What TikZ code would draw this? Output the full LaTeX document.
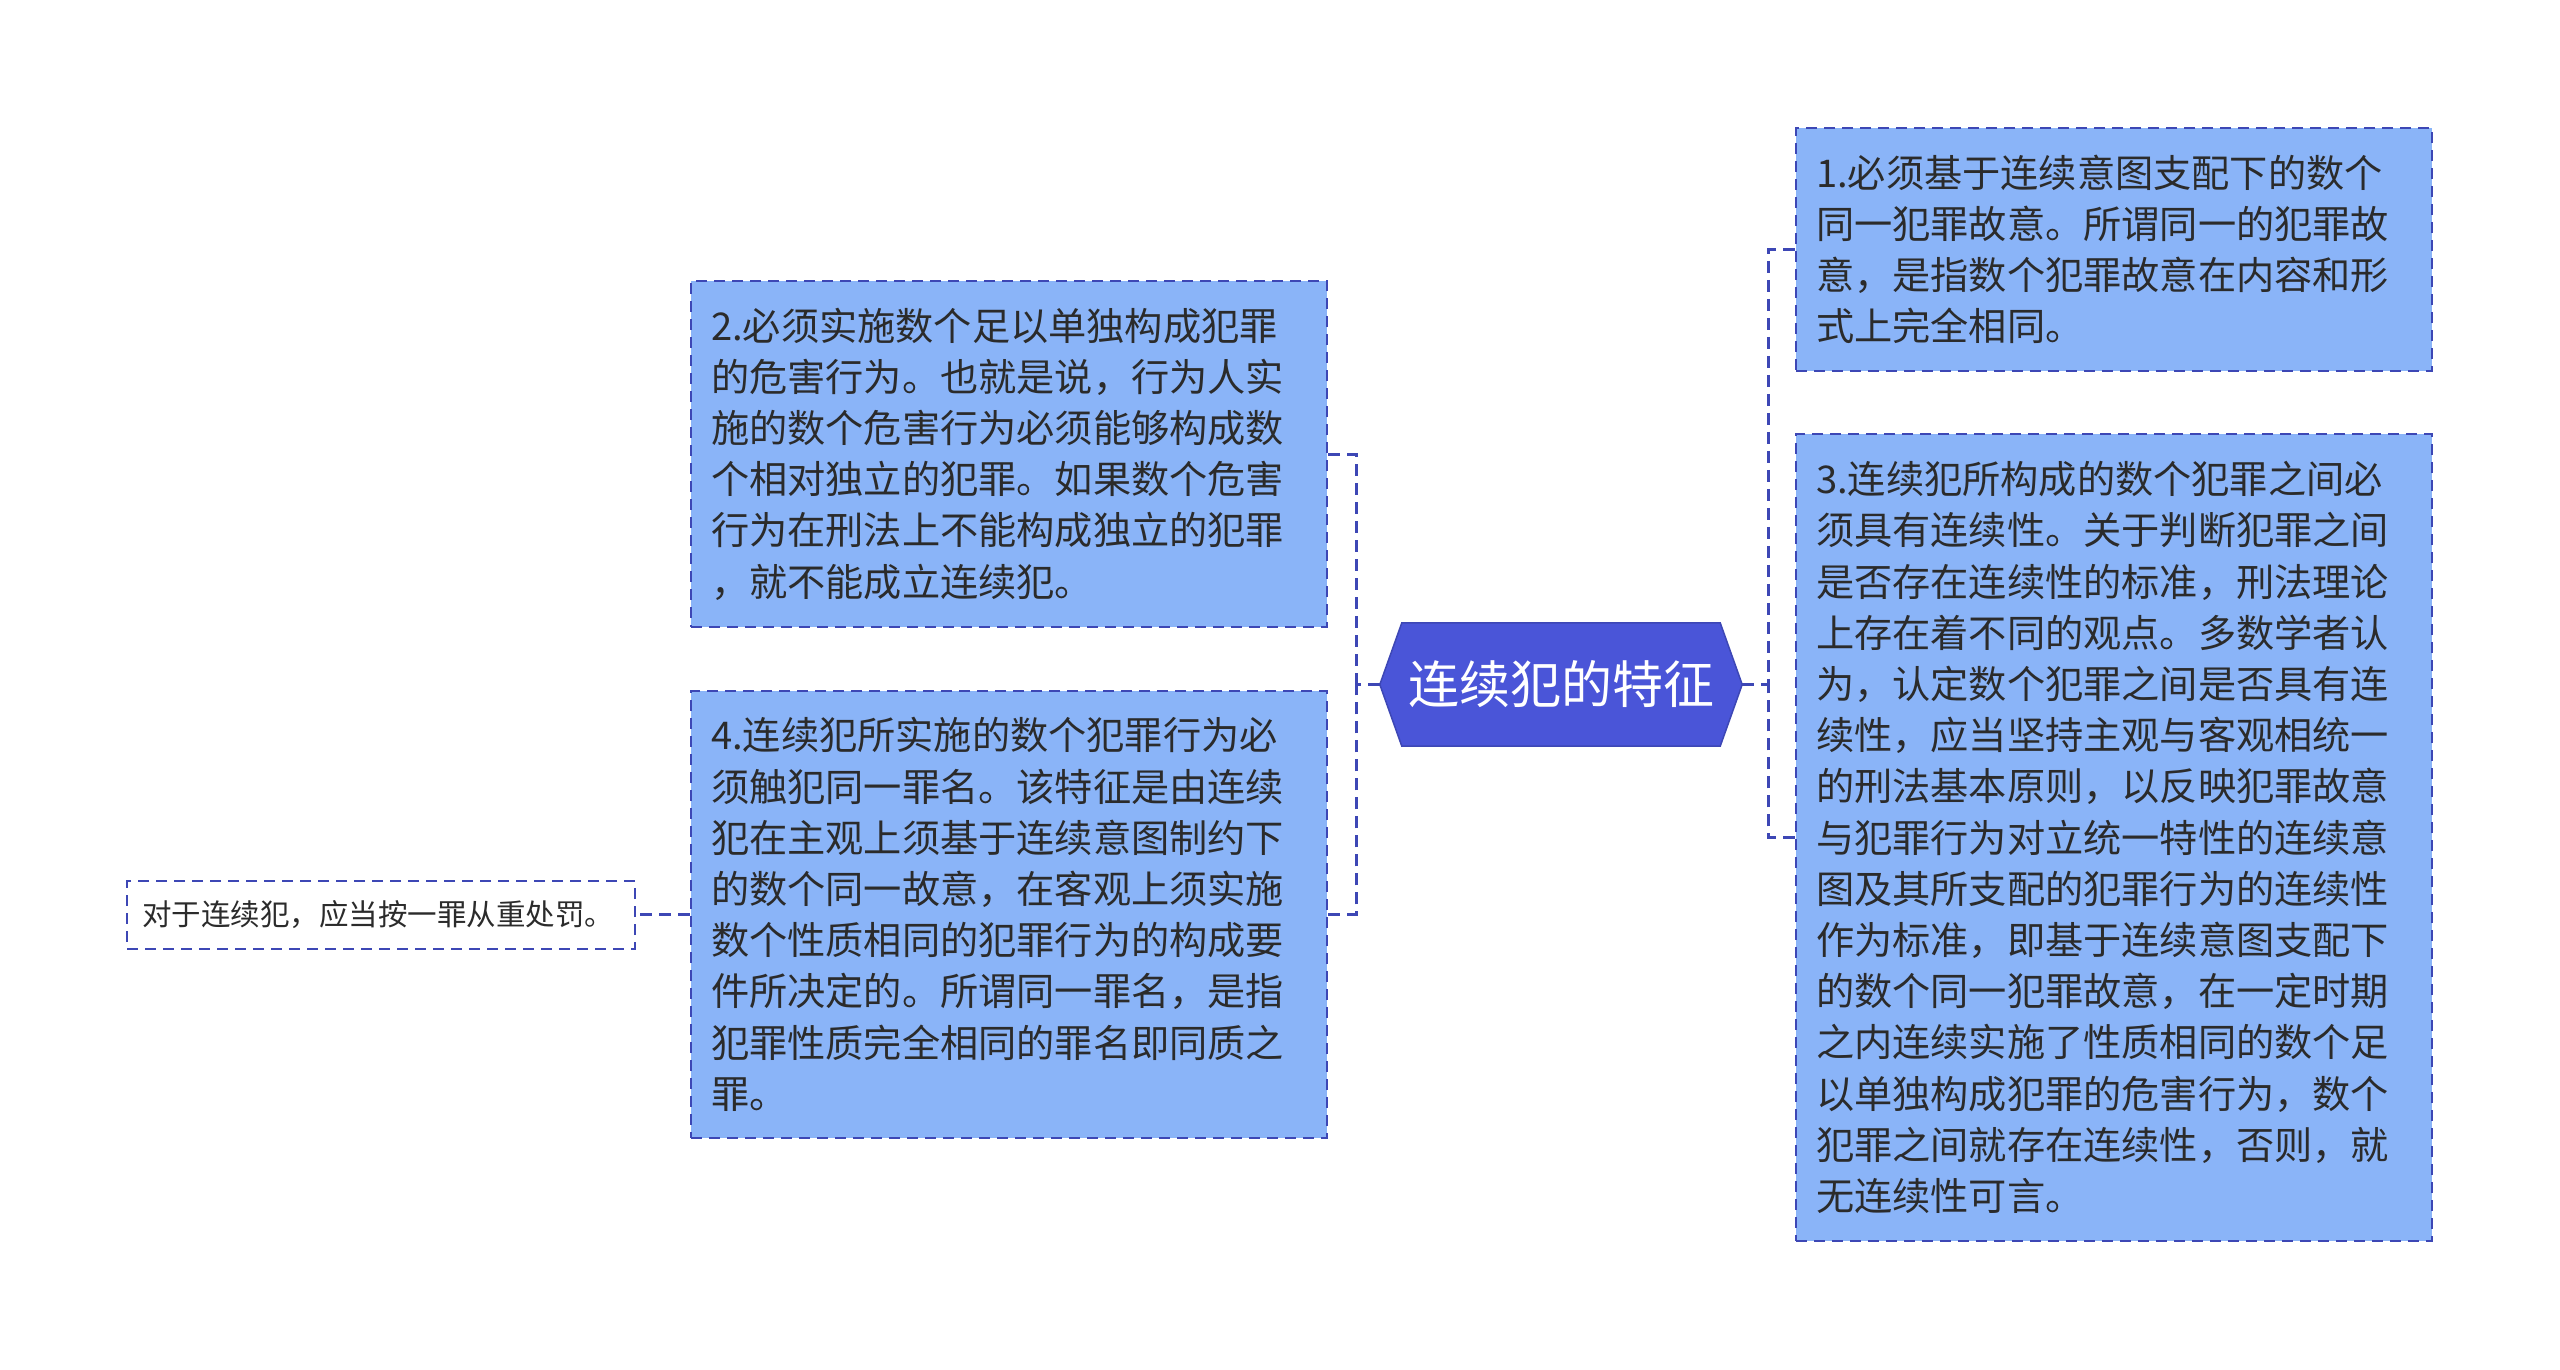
\documentclass[tikz,border=0pt]{standalone}
\usepackage{fontspec}
\setmainfont{Noto Sans CJK SC}
\usetikzlibrary{backgrounds}
\definecolor{boxfill}{HTML}{8AB4F8}
\definecolor{boxline}{HTML}{3D47B5}
\definecolor{rootfill}{HTML}{4A55D8}
\definecolor{txt}{HTML}{2B2B2B}
\begin{document}
\begin{tikzpicture}[x=1pt,y=-1pt,
  topic/.style={draw=boxline, fill=boxfill, line width=2.5pt, dash pattern=on 11pt off 7pt,
    text=txt, align=left, text width=596pt, inner xsep=20pt, inner ysep=0pt,
    minimum width=636pt, font=\fontsize{38.2}{51.2}\selectfont},
  leafbox/.style={draw=boxline, line width=2pt, dash pattern=on 11pt off 7pt,
    text=txt, align=left, text width=478pt, inner xsep=15pt, inner ysep=0pt,
    minimum width=508pt, minimum height=68pt, font=\fontsize{29.5}{34}\selectfont},
  conn/.style={draw=boxline, line width=3pt, dash pattern=on 12pt off 7pt}]
\useasboundingbox (0,0) rectangle (2560,1369);

\node[inner sep=0pt, minimum width=362pt, minimum height=123pt, text=white,
  font=\fontsize{51}{60}\selectfont] (root) at (1561,684.5) {连续犯的特征};
\begin{scope}[on background layer]
\path[fill=rootfill, draw=boxline, line width=1.5pt]
  (root.west) -- ([xshift=22pt]root.north west) -- ([xshift=-22pt]root.north east)
  -- (root.east) -- ([xshift=-22pt]root.south east) -- ([xshift=22pt]root.south west) -- cycle;
\end{scope}

\node[topic, minimum height=243pt] (b1) at (2114,249.5) {1.必须基于连续意图支配下的数个\\同一犯罪故意。所谓同一的犯罪故\\意，是指数个犯罪故意在内容和形\\式上完全相同。};
\node[topic, minimum height=807pt] (b3) at (2114,837.5) {3.连续犯所构成的数个犯罪之间必\\须具有连续性。关于判断犯罪之间\\是否存在连续性的标准，刑法理论\\上存在着不同的观点。多数学者认\\为，认定数个犯罪之间是否具有连\\续性，应当坚持主观与客观相统一\\的刑法基本原则，以反映犯罪故意\\与犯罪行为对立统一特性的连续意\\图及其所支配的犯罪行为的连续性\\作为标准，即基于连续意图支配下\\的数个同一犯罪故意，在一定时期\\之内连续实施了性质相同的数个足\\以单独构成犯罪的危害行为，数个\\犯罪之间就存在连续性，否则，就\\无连续性可言。};
\node[topic, minimum height=346pt] (b2) at (1009,454) {2.必须实施数个足以单独构成犯罪\\的危害行为。也就是说，行为人实\\施的数个危害行为必须能够构成数\\个相对独立的犯罪。如果数个危害\\行为在刑法上不能构成独立的犯罪\\，就不能成立连续犯。};
\node[topic, minimum height=447pt] (b4) at (1009,914.5) {4.连续犯所实施的数个犯罪行为必\\须触犯同一罪名。该特征是由连续\\犯在主观上须基于连续意图制约下\\的数个同一故意，在客观上须实施\\数个性质相同的犯罪行为的构成要\\件所决定的。所谓同一罪名，是指\\犯罪性质完全相同的罪名即同质之\\罪。};
\node[leafbox] (leaf) at (381,915) {对于连续犯，应当按一罪从重处罚。};

\coordinate (lj) at (1356,684.5);
\coordinate (rj) at (1768,684.5);
\draw[conn] (root.west) -- (lj);
\draw[conn] (b2.east) -| (lj);
\draw[conn] (b4.east) -| (lj);
\draw[conn] (root.east) -- (rj);
\draw[conn] (b1.west) -| (rj);
\draw[conn] (b3.west) -| (rj);
\draw[conn] (b4.west) -- (b4.west -| leaf.east);
\end{tikzpicture}
\end{document}
